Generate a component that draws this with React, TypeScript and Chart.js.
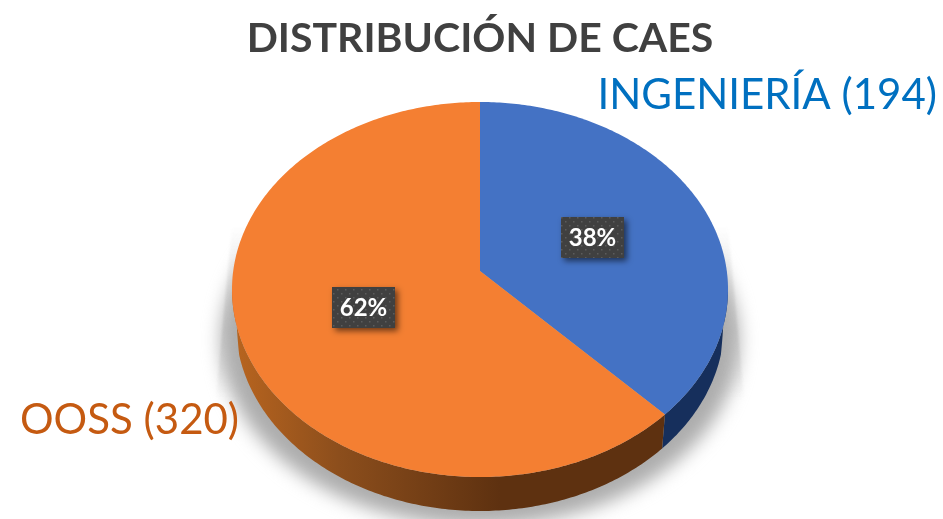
import React, { useEffect, useRef } from "react";
import { Chart, registerables } from "chart.js";

Chart.register(...registerables);

const title = "DISTRIBUCIÓN DE CAES";
const categories = ["INGENIERÍA", "OOSS"];
const values = [194, 320];
const faceColors = ["#4472C4", "#F47F32"];
const labelColors = ["#0070C0", "#C55A11"];

const CX = 480, CY = 289.5, RX = 248, RY = 187.5, DEPTH = 34, BOTTOM_SCALE = 0.985, PERSP = 0.0987;
const FONT = "Lato, 'Open Sans', sans-serif";

// perspective map of a unit-disc point (x right, y up) onto the tilted top face
function project(x: number, y: number) {
  const d = 1 + PERSP * y;
  const yy = (y + PERSP) / d;
  const xx = (x * Math.sqrt(1 - PERSP * PERSP)) / d;
  return { x: CX + xx * RX, y: CY - yy * RY };
}
function facePoint(angle: number, r: number) {
  const t = angle + Math.PI / 2; // clockwise from the top
  return project(r * Math.sin(t), r * Math.cos(t));
}
function ring(start: number, end: number) {
  const pts = [];
  const n = Math.max(2, Math.ceil((end - start) * 80));
  for (let i = 0; i <= n; i++) pts.push(facePoint(start + ((end - start) * i) / n, 1));
  return pts;
}

const pie3d = {
  id: "pie3d",
  beforeDatasetsDraw(chart: any) {
    const ctx: CanvasRenderingContext2D = chart.ctx;
    const arcs = chart.getDatasetMeta(0).data;

    // faint tapering shadow beside the disc
    ctx.save();
    ctx.filter = "blur(1px)";
    const side = ctx.createLinearGradient(0, 225, 0, 400);
    side.addColorStop(0, "rgba(215,215,215,0)");
    side.addColorStop(0.6, "rgba(215,215,215,0.9)");
    side.addColorStop(1, "rgba(215,215,215,0)");
    ctx.fillStyle = side;
    ctx.beginPath();
    ctx.moveTo(232, 225);
    ctx.lineTo(216, 400);
    ctx.lineTo(744, 400);
    ctx.lineTo(728, 225);
    ctx.closePath();
    ctx.fill();
    ctx.restore();

    // soft ground shadow
    ctx.save();
    ctx.filter = "blur(9px)";
    ctx.fillStyle = "#adadad";
    ctx.beginPath();
    ctx.ellipse(CX, 340, 259, 186, 0, 0, Math.PI * 2);
    ctx.fill();
    ctx.restore();

    // cylinder wall
    arcs.forEach((arc: any, i: number) => {
      const top = ring(arc.startAngle, arc.endAngle).filter((p) => p.y >= CY - 1);
      if (!top.length) return;
      const wall = ctx.createLinearGradient(CX - RX, 0, CX + 20, 0);
      if (i === 1) {
        wall.addColorStop(0, "#B9651F");
        wall.addColorStop(0.4, "#8C4E1C");
        wall.addColorStop(1, "#5E3110");
      } else {
        wall.addColorStop(0, "#162F5C");
        wall.addColorStop(1, "#162F5C");
      }
      ctx.fillStyle = wall;
      ctx.beginPath();
      top.forEach((p, k) => (k ? ctx.lineTo(p.x, p.y) : ctx.moveTo(p.x, p.y)));
      [...top].reverse().forEach((p) => {
        const t = (p.y - CY) / RY;
        ctx.lineTo(CX + (p.x - CX) * BOTTOM_SCALE, p.y + DEPTH * Math.min(1, t * 6));
      });
      ctx.closePath();
      ctx.fill();
    });

    // top face
    const apex = project(0, 0);
    arcs.forEach((arc: any, i: number) => {
      ctx.fillStyle = faceColors[i];
      ctx.beginPath();
      ctx.moveTo(apex.x, apex.y);
      ring(arc.startAngle, arc.endAngle).forEach((p) => ctx.lineTo(p.x, p.y));
      ctx.closePath();
      ctx.fill();
    });
    return false;
  },
  afterDraw(chart: any) {
    const ctx: CanvasRenderingContext2D = chart.ctx;
    const arcs = chart.getDatasetMeta(0).data;
    const total = values.reduce((a, b) => a + b, 0);

    const tile = document.createElement("canvas");
    tile.width = tile.height = 8;
    const t = tile.getContext("2d")!;
    t.fillStyle = "#404040";
    t.fillRect(0, 0, 8, 8);
    t.fillStyle = "#5c5c5c";
    t.fillRect(1, 1, 1.5, 1.5);
    t.fillRect(5, 5, 1.5, 1.5);
    const pattern = ctx.createPattern(tile, "repeat")!;

    arcs.forEach((arc: any, i: number) => {
      const c = facePoint((arc.startAngle + arc.endAngle) / 2, 0.5);
      const w = 63, h = 41;
      const x = Math.round(c.x - w / 2), y = Math.round(c.y - h / 2) + 1;
      ctx.save();
      ctx.shadowColor = "rgba(0,0,0,0.55)";
      ctx.shadowBlur = 6;
      ctx.shadowOffsetX = 3;
      ctx.shadowOffsetY = 3;
      ctx.fillStyle = "#404040";
      ctx.fillRect(x, y, w, h);
      ctx.restore();
      ctx.fillStyle = pattern;
      ctx.fillRect(x, y, w, h);
      ctx.fillStyle = "#FFFFFF";
      ctx.font = `bold 24px ${FONT}`;
      ctx.textAlign = "center";
      ctx.textBaseline = "middle";
      ctx.fillText(`${Math.round((values[i] / total) * 100)}%`, x + w / 2, y + h / 2 + 1);
    });

    ctx.font = `42px ${FONT}`;
    ctx.textBaseline = "middle";
    ctx.textAlign = "right";
    ctx.fillStyle = labelColors[0];
    ctx.fillText(`${categories[0]} (${values[0]})`, 937, 95);
    ctx.textAlign = "left";
    ctx.fillStyle = labelColors[1];
    ctx.fillText(`${categories[1]} (${values[1]})`, 20, 420);
  },
};

export default function App() {
  const ref = useRef<HTMLCanvasElement>(null);
  useEffect(() => {
    document.body.style.margin = "0";
    const chart = new Chart(ref.current!, {
      type: "pie",
      data: {
        labels: categories,
        datasets: [{ data: values, backgroundColor: faceColors, borderWidth: 0 }],
      },
      options: {
        responsive: false,
        animation: false,
        layout: { padding: { left: 17 } },
        plugins: {
          legend: { display: false },
          tooltip: { enabled: false },
          title: {
            display: true,
            text: title,
            color: "#404040",
            font: { family: FONT, size: 41, weight: "bold" },
            padding: { top: 14, bottom: 10 },
          },
        },
      },
      plugins: [pie3d],
    } as any);
    return () => chart.destroy();
  }, []);
  return <canvas ref={ref} width={943} height={519} style={{ display: "block" }} />;
}
